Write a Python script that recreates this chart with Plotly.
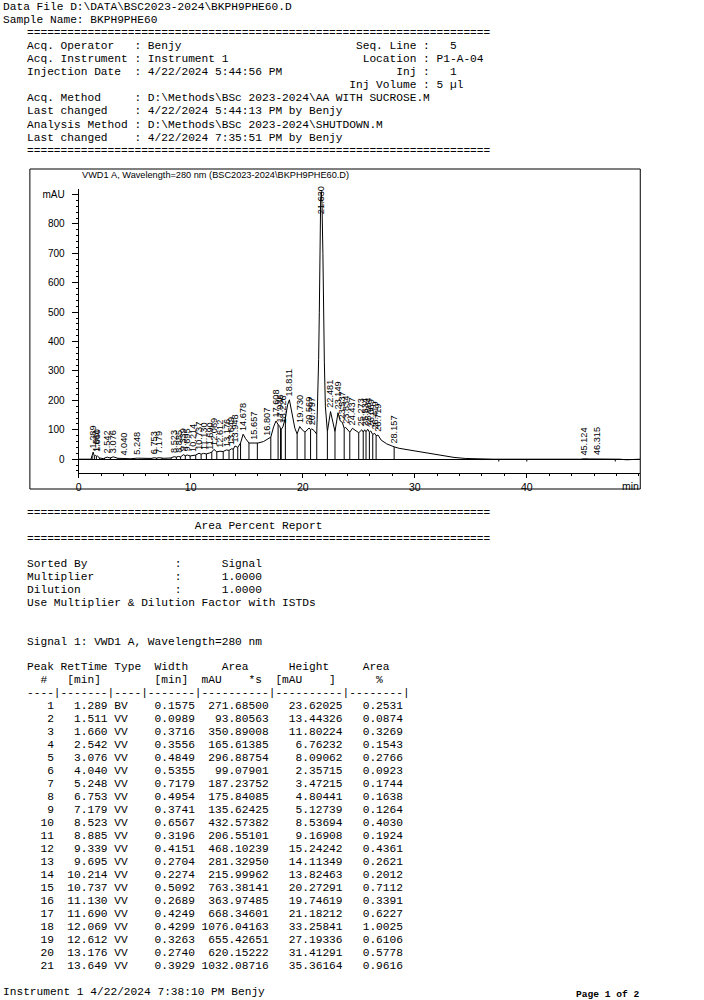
import numpy as np
import plotly.graph_objects as go

W, H = 704, 1000

# ---------------- chromatogram ----------------
sig_t = [0.0, 1.10, 1.20, 1.29, 1.40, 1.51, 1.58, 1.66, 1.85, 2.20, 2.54, 2.80, 3.08, 3.50, 4.04, 4.60,
         5.25, 5.90, 6.45, 6.75, 6.95, 7.18, 7.60, 8.20, 8.52, 8.72, 8.89, 9.10, 9.34, 9.52, 9.70, 9.95,
         10.21, 10.45, 10.74, 10.93, 11.13, 11.40, 11.69, 11.88, 12.07, 12.33, 12.61, 12.90, 13.18, 13.42,
         13.65, 13.80, 13.95, 14.20, 14.45, 14.68, 14.90, 15.20, 15.66, 16.00, 16.50, 16.81, 17.15, 17.40,
         17.61, 17.80, 17.94, 18.05, 18.23, 18.45, 18.65, 18.81, 19.00, 19.30, 19.50, 19.73, 19.95, 20.20,
         20.57, 20.70, 20.80, 21.00, 21.25, 21.35, 21.42, 21.48, 21.54, 21.60, 21.66, 21.72, 21.80, 21.86,
         21.93, 22.02, 22.20, 22.48, 22.70, 22.88, 23.15, 23.35, 23.54, 23.70, 23.83, 24.05, 24.20, 24.44,
         24.70, 25.00, 25.27, 25.40, 25.53, 25.65, 25.80, 25.95, 26.07, 26.25, 26.42, 26.55, 26.72, 27.00,
         27.50, 27.90, 28.16, 28.60, 29.50, 30.50, 31.50, 32.50, 33.50, 34.50, 35.50, 37.00, 44.80, 45.12,
         45.60, 46.32, 46.60, 48.30, 48.90, 49.50, 50.13]
sig_v = [0, 0, 12, 24, 10, 13, 9, 12, 4, 2, 7, 4, 8, 3, 2.4, 1.5,
         3.5, 2, 2.5, 4.8, 3.5, 5.1, 3, 4, 8.5, 7, 9.2, 8, 15.2, 12, 14.1, 11,
         13.8, 14, 20.3, 17, 19.7, 18, 21.2, 24, 33.3, 25, 27.2, 26, 31.4, 30,
         35.4, 34, 45, 40, 55, 85, 70, 55, 55, 55, 60, 68, 75, 110,
         130, 118, 112, 100, 110, 140, 185, 202, 165, 105, 86, 111, 100, 92,
         106, 100, 103, 98, 85, 200, 340, 500, 740, 880, 910, 870, 700, 480,
         330, 180, 94, 162, 120, 94, 158, 130, 125, 105, 108, 100, 92, 105,
         98, 90, 100, 92, 100, 93, 102, 92, 96, 84, 88, 80, 82, 65,
         52, 45, 42, 37, 31, 24, 17, 11, 6, 2.5, 0.5, 0, 0, 1.5,
         0.8, 1.2, 0, 0, -2, 0, 0]

label_rt = [1.289, 1.511, 1.660, 2.542, 3.076, 4.040, 5.248, 6.753, 7.179, 8.523, 8.885, 9.339, 9.695,
            10.214, 10.737, 11.130, 11.690, 12.069, 12.612, 13.176, 13.649, 13.948, 14.678, 15.657,
            16.807, 17.608, 17.936, 18.226, 18.811, 19.730, 20.569, 20.797, 21.630, 22.481, 23.149,
            23.537, 23.834, 24.437, 25.273, 25.534, 25.804, 26.069, 26.419, 26.719, 28.157, 45.124, 46.315]

drop_t = [1.20, 1.40, 1.58, 1.85, 2.30, 2.85, 3.50, 4.55, 5.95, 6.45, 6.95, 7.45, 8.25, 8.72, 9.10,
          9.52, 9.95, 10.45, 10.93, 11.40, 11.88, 12.33, 12.90, 13.42, 13.80, 14.20, 14.45, 15.20, 15.95,
          17.15, 17.80, 18.02, 18.08, 18.45, 19.50, 20.20, 20.70, 21.25, 22.20, 22.88, 23.70, 24.20,
          25.00, 25.40, 25.65, 25.95, 26.25, 26.55, 28.16, 44.20]
event_t = [37.5, 40.0, 47.9]

x_ticks = [0, 10, 20, 30, 40]
y_ticks = [0, 100, 200, 300, 400, 500, 600, 700, 800, 900]
y_ticktext = ["0", "100", "200", "300", "400", "500", "600", "700", "800", "mAU"]

# ---------------- report table ----------------
peak_no = list(range(1, 22))
ret_time = [1.289, 1.511, 1.660, 2.542, 3.076, 4.040, 5.248, 6.753, 7.179, 8.523, 8.885,
            9.339, 9.695, 10.214, 10.737, 11.130, 11.690, 12.069, 12.612, 13.176, 13.649]
peak_type = ["BV"] + ["VV"] * 20
peak_width = [0.1575, 0.0989, 0.3716, 0.3556, 0.4849, 0.5355, 0.7179, 0.4954, 0.3741, 0.6567, 0.3196,
              0.4151, 0.2704, 0.2274, 0.5092, 0.2689, 0.4249, 0.4299, 0.3263, 0.2740, 0.3929]
peak_area = [271.68500, 93.80563, 350.89008, 165.61385, 296.88754, 99.07901, 187.23752, 175.84085,
             135.62425, 432.57382, 206.55101, 468.10239, 281.32950, 215.99962, 763.38141, 363.97485,
             668.34601, 1076.04163, 655.42651, 620.15222, 1032.08716]
peak_height = [23.62025, 13.44326, 11.80224, 6.76232, 8.09062, 2.35715, 3.47215, 4.80441, 5.12739,
               8.53694, 9.16908, 15.24242, 14.11349, 13.82463, 20.27291, 19.74619, 21.18212, 33.25841,
               27.19336, 31.41291, 35.36164]
area_pct = [0.2531, 0.0874, 0.3269, 0.1543, 0.2766, 0.0923, 0.1744, 0.1638, 0.1264, 0.4030, 0.1924,
            0.4361, 0.2621, 0.2012, 0.7112, 0.3391, 0.6227, 1.0025, 0.6106, 0.5778, 0.9616]

SEP = "=" * 69
header_lines = [
    "Acq. Operator   : Benjy".ljust(49) + "Seq. Line :   5",
    "Acq. Instrument : Instrument 1".ljust(50) + "Location : P1-A-04",
    "Injection Date  : 4/22/2024 5:44:56 PM".ljust(55) + "Inj :   1",
    " " * 48 + "Inj Volume : 5 \u00b5l",
    "Acq. Method     : D:\\Methods\\BSc 2023-2024\\AA WITH SUCROSE.M",
    "Last changed    : 4/22/2024 5:44:13 PM by Benjy",
    "Analysis Method : D:\\Methods\\BSc 2023-2024\\SHUTDOWN.M",
    "Last changed    : 4/22/2024 7:35:51 PM by Benjy",
    SEP,
]

MONO = "Liberation Mono, Courier New, monospace"
SANS = "Liberation Sans, Arial, sans-serif"
MS = 11.2

annotations = []
shapes = []


def nb(s):
    return s.replace("&", "&amp;").replace(" ", "\u00a0")


def text_line(s, x, y, size=MS, family=MONO, bold=False):
    xx = x - 2.5 if x > 0 else x
    annotations.append(dict(
        text=nb(s), x=xx / W, y=1 - y / H, xref="paper", yref="paper",
        xanchor="left", yanchor="middle", showarrow=False, borderpad=0, borderwidth=0,
        font=dict(family=family, size=size, color="black", weight="bold" if bold else "normal")))


# page header
text_line("Data File D:\\DATA\\BSC2023-2024\\BKPH9PHE60.D", 0, 6.7)
text_line("Sample Name: BKPH9PHE60", 0, 6.7 + 13.09)
text_line(SEP, 27, 6.7 + 2 * 13.09)
for i, s in enumerate(header_lines):
    text_line(s, 27, 6.7 + (i + 3) * 13.09)

# report
text_line(SEP, 27, 513)
text_line(" " * 25 + "Area Percent Report", 27, 526)
text_line(SEP, 27, 539)
text_line("Sorted By".ljust(22) + ":      Signal", 27, 564)
text_line("Multiplier".ljust(22) + ":      1.0000", 27, 577)
text_line("Dilution".ljust(22) + ":      1.0000", 27, 590)
text_line("Use Multiplier & Dilution Factor with ISTDs", 27, 603)
text_line("Signal 1: VWD1 A, Wavelength=280 nm", 27, 642)
text_line("Peak RetTime Type  Width     Area      Height     Area", 27, 667)
text_line("  #   [min]        [min]  mAU    *s  [mAU    ]      %", 27, 680)
text_line("----|-------|----|-------|----------|----------|--------|", 27, 693)
for k in range(len(peak_no)):
    row = (f"{peak_no[k]:4d} {ret_time[k]:7.3f} {peak_type[k]:<4s} {peak_width[k]:7.4f} "
           f"{peak_area[k]:10.5f} {peak_height[k]:10.5f} {area_pct[k]:8.4f}")
    text_line(row, 27, 706 + 13 * k)

text_line("Instrument 1 4/22/2024 7:38:10 PM Benjy", 0, 992)
text_line("Page 1 of 2", 577.5, 994, size=9.6, bold=True)

# chart frame
shapes.append(dict(type="rect", xref="paper", yref="paper", x0=27 / W, x1=640 / W,
                   y0=1 - 489 / H, y1=1 - 169 / H, line=dict(color="black", width=1)))
# chart title
text_line("VWD1 A, Wavelength=280 nm (BSC2023-2024\\BKPH9PHE60.D)", 81.5, 175, size=9.2, family=SANS)
# 'min' unit label
annotations.append(dict(text="min", x=640 / W, y=1 - 486 / H, xref="paper", yref="paper",
                        xanchor="right", yanchor="middle", showarrow=False, borderpad=0,
                        font=dict(family=SANS, size=10.5, color="black")))

# peak labels
apex = np.interp(label_rt, sig_t, sig_v)
for rt, a in zip(label_rt, apex):
    annotations.append(dict(text=f"{rt:.3f}", x=rt, y=min(a + 8, 830), xref="x", yref="y",
                            textangle=-90, xanchor="center", yanchor="bottom", showarrow=False,
                            borderpad=0, font=dict(family=SANS, size=9.2, color="black")))

# drop lines from baseline to signal
drop_v = np.interp(drop_t, sig_t, sig_v)
dx, dy = [], []
for t, v in zip(drop_t, drop_v):
    dx += [t, t, None]
    dy += [0, v, None]
for t in event_t:
    dx += [t, t, None]
    dy += [0, -8, None]

fig = go.Figure()
fig.add_trace(go.Scatter(x=sig_t, y=sig_v, mode="lines", line=dict(color="black", width=1),
                         hoverinfo="skip", showlegend=False))
fig.add_trace(go.Scatter(x=dx, y=dy, mode="lines", line=dict(color="black", width=1),
                         hoverinfo="skip", showlegend=False))

fig.update_layout(
    width=W, height=H, margin=dict(l=0, r=0, t=0, b=0),
    paper_bgcolor="white", plot_bgcolor="white", showlegend=False,
    annotations=annotations, shapes=shapes,
    xaxis=dict(domain=[76 / W, 640 / W], range=[0, 50.13], showgrid=False, zeroline=False,
               showline=True, linecolor="black", linewidth=1, ticks="outside", ticklen=4,
               tickcolor="black", tickvals=x_ticks, ticktext=[str(v) for v in x_ticks],
               tickfont=dict(family=SANS, size=10.5, color="black"),
               minor=dict(dtick=2, ticks="outside", ticklen=2, tickcolor="black")),
    yaxis=dict(domain=[1 - 473.3 / H, 1 - 189 / H], range=[-48, 919], showgrid=False,
               zeroline=True, zerolinecolor="black", zerolinewidth=1,
               showline=True, linecolor="black", linewidth=1, ticks="outside", ticklen=6,
               tickcolor="black", tickvals=y_ticks, ticktext=y_ticktext, ticklabelstandoff=5,
               tickfont=dict(family=SANS, size=10, color="black"),
               minor=dict(dtick=20, ticks="outside", ticklen=2, tickcolor="black")),
)

fig.write_html("out.html")
